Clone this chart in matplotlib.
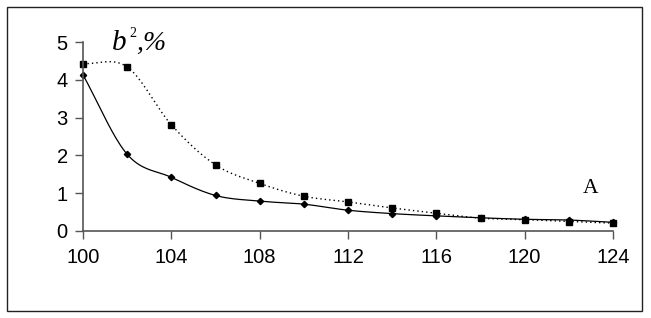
import numpy as np
import matplotlib
matplotlib.use("Agg")
import matplotlib.pyplot as plt
from matplotlib.patches import Rectangle

# data
x_vals = [100, 102, 104, 106, 108, 110, 112, 114, 116, 118, 120, 122, 124]
solid_vals = [4.13, 2.03, 1.42, 0.94, 0.79, 0.71, 0.55, 0.46, 0.40, 0.35, 0.31, 0.29, 0.23]
dotted_vals = [4.43, 4.34, 2.81, 1.75, 1.26, 0.92, 0.77, 0.61, 0.47, 0.34, 0.30, 0.25, 0.21]
x_ticks = [100, 104, 108, 112, 116, 120, 124]
y_ticks = [0, 1, 2, 3, 4, 5]


def smooth(xs, ys, n=20):
    # catmull-rom, roughly like excel's "smoothed line"
    xs = np.asarray(xs, float)
    ys = np.asarray(ys, float)
    px = np.concatenate([[2 * xs[0] - xs[1]], xs, [2 * xs[-1] - xs[-2]]])
    py = np.concatenate([[2 * ys[0] - ys[1]], ys, [2 * ys[-1] - ys[-2]]])
    outx, outy = [], []
    t = np.linspace(0, 1, n, endpoint=False)
    for i in range(1, len(px) - 2):
        for arr, out in ((px, outx), (py, outy)):
            p0, p1, p2, p3 = arr[i - 1:i + 3]
            out.extend(0.5 * (2 * p1 + (-p0 + p2) * t
                              + (2 * p0 - 5 * p1 + 4 * p2 - p3) * t ** 2
                              + (-p0 + 3 * p1 - 3 * p2 + p3) * t ** 3))
    outx.append(xs[-1])
    outy.append(ys[-1])
    return np.array(outx), np.array(outy)


plt.rcParams['font.family'] = ['Liberation Sans', 'DejaVu Sans']

fig = plt.figure(figsize=(6.51, 3.18), dpi=100)
fig.patches.append(Rectangle((7 / 651, 7 / 318), 635 / 651, 304 / 318,
                             transform=fig.transFigure, fill=False,
                             edgecolor='#222222', linewidth=1.0))
ax = fig.add_axes([83 / 651, 87 / 318, 530 / 651, 189 / 318])

sx, sy = smooth(x_vals, solid_vals)
ax.plot(sx, sy, '-', color='black', linewidth=0.9, clip_on=False)
ax.plot(x_vals, solid_vals, 'D', color='black', markersize=3.2, clip_on=False)

dx, dy = smooth(x_vals, dotted_vals)
ax.plot(dx, dy, linestyle=(0, (1, 2.2)), color='black', linewidth=1.0, clip_on=False)
ax.plot(x_vals, dotted_vals, 's', color='black', markersize=5, clip_on=False)

ax.set_xlim(100, 124)
ax.set_ylim(0, 5)
ax.set_xticks(x_ticks)
ax.set_yticks(y_ticks)
for s in ('top', 'right'):
    ax.spines[s].set_visible(False)
for s in ('left', 'bottom'):
    ax.spines[s].set_color('#555555')
    ax.spines[s].set_linewidth(1.2)
ax.tick_params(direction='out', length=6, width=1, color='#555555',
               labelsize=14.5, pad=6)
ax.tick_params(axis='y', pad=5)

serif = 'Liberation Serif'
ax.text(101.33, 4.79, 'b', fontsize=21, family=serif, style='italic',
        ha='left', va='baseline')
ax.text(102.1, 5.12, '2', fontsize=10, family=serif,
        ha='left', va='baseline')
ax.text(102.4, 4.79, ',%', fontsize=20, family=serif, style='italic',
        ha='left', va='baseline')
ax.text(122.65, 1.0, 'A', fontsize=15.5, family=serif,
        ha='left', va='baseline')

fig.savefig('out.png', dpi=100)
